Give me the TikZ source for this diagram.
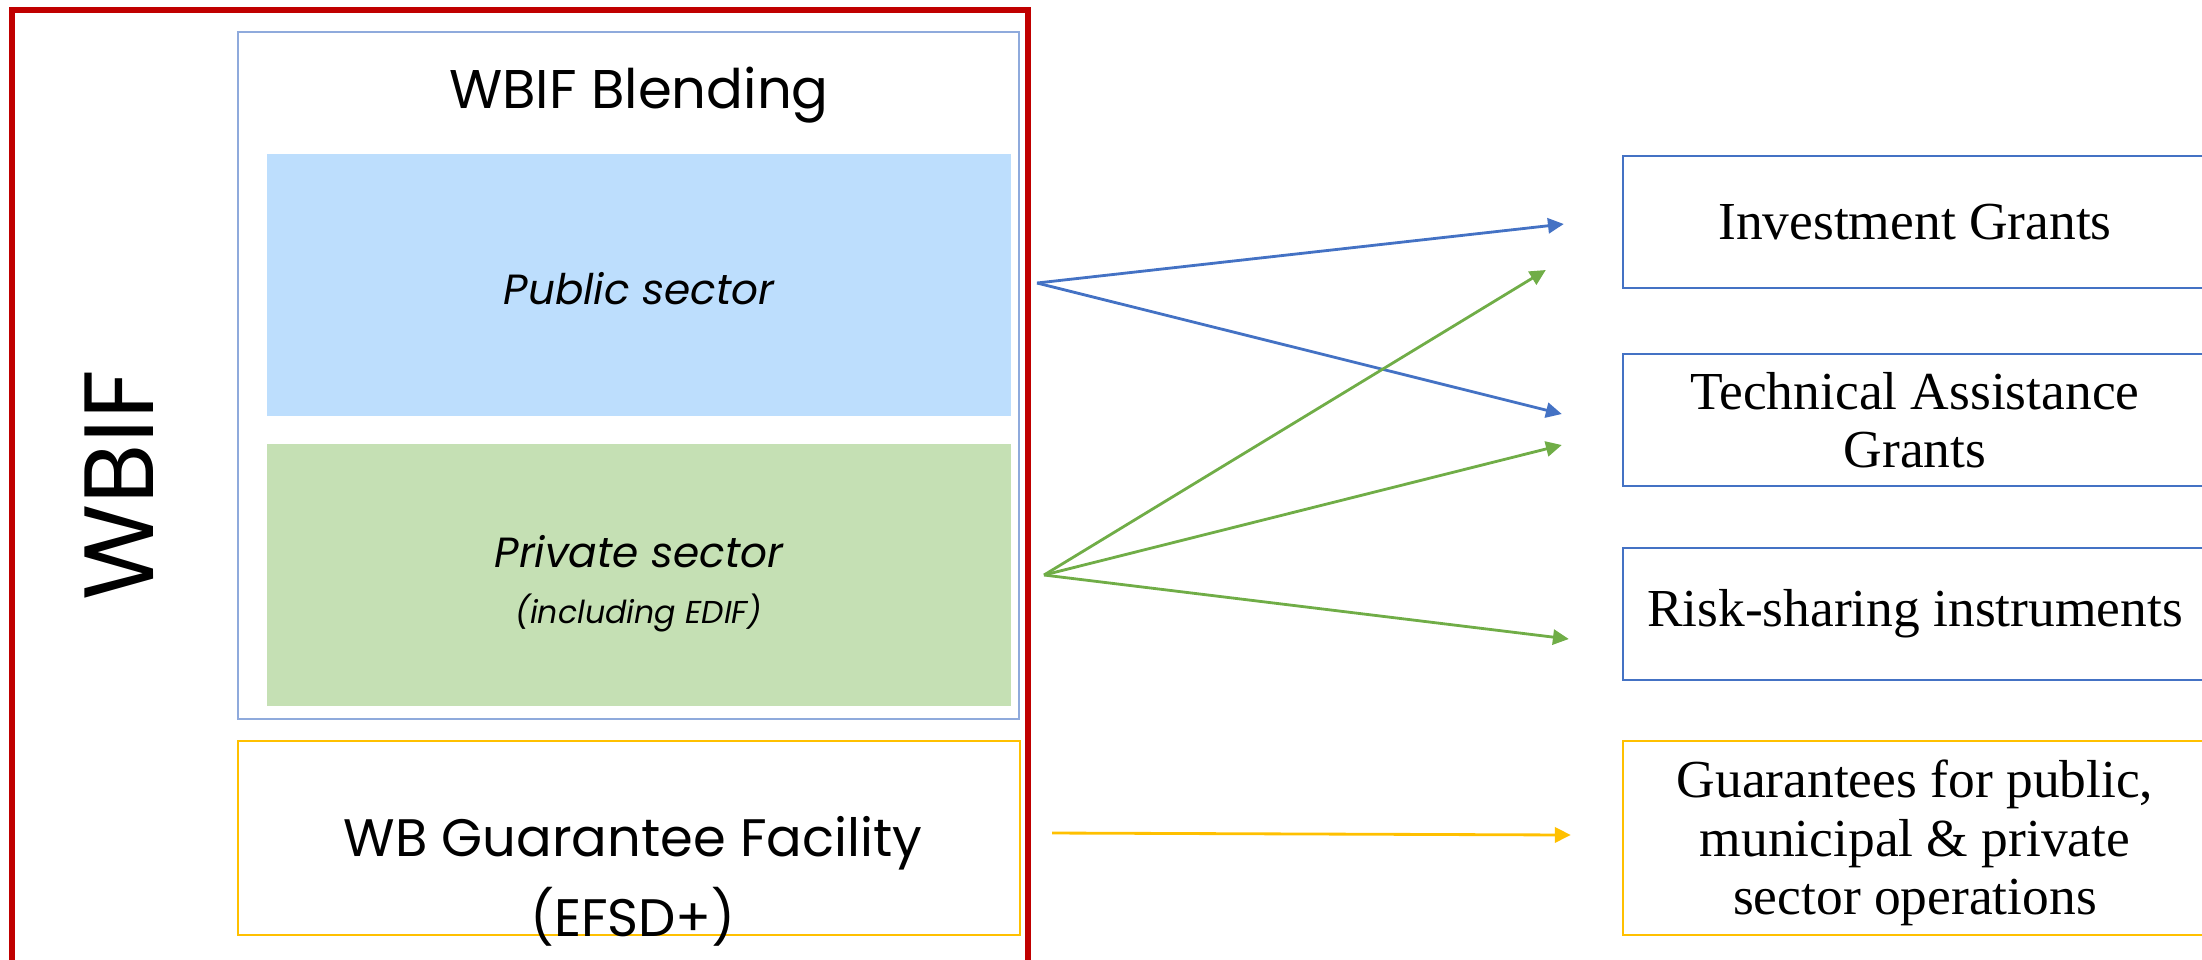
\documentclass[tikz,border=0pt]{standalone}
\usepackage{fontspec}
\setmainfont{Liberation Serif}
\setsansfont{Poppins}
\usepackage{tikz}
\usetikzlibrary{arrows.meta, calc}
\definecolor{wbred}{HTML}{C00000}
\definecolor{outblue}{HTML}{4472C4}
\definecolor{softblue}{HTML}{8FAADC}
\definecolor{pubfill}{HTML}{BDDEFD}
\definecolor{privfill}{HTML}{C5E0B4}
\definecolor{linkgreen}{HTML}{70AD47}
\definecolor{gold}{HTML}{FFC000}

\begin{document}
\begin{tikzpicture}[x=0.01cm, y=-0.01cm,
	secbox/.style={inner sep=0pt, minimum width=7.44cm, minimum height=2.61cm, align=center, font=\sffamily\itshape\fontsize{12}{22}\selectfont},
	outbox/.style={draw=outblue, line width=0.6pt, inner sep=0pt, minimum width=5.84cm, minimum height=1.32cm, align=center, font=\fontsize{15.2}{16.5}\selectfont},
	link/.style={line width=0.8pt, -{Triangle[length=4.5pt, width=4.3pt]}}]
				
				\useasboundingbox (0,0) rectangle (2202,959);
				% WBIF frame, open at the bottom
				\draw[wbred, line width=1.45pt] (12,990) -- (12,10) -- (1028,10) -- (1028,990);
				\node[rotate=90, font=\sffamily\fontsize{28}{30}\selectfont] (wbif) at (119,485) {WBIF};
				
				\node[draw=softblue, line width=0.6pt, inner sep=0pt, minimum width=7.81cm, minimum height=6.87cm] (blend) at (628.5,375.5) {};
				\node[font=\sffamily\fontsize{15.5}{18}\selectfont] (blendlbl) at (639,95) {WBIF Blending};
				\node[secbox, fill=pubfill] (pub) at (639,285) {};
				\node[secbox] (publbl) at (639,289) {Public sector};
				\node[secbox, fill=privfill] (priv) at (639,575) {};
				\node[secbox] (privlbl) at (639,584) {Private sector\\[-6pt]{\fontsize{9}{11}\selectfont (including EDIF)}};
				
				\node[draw=gold, line width=0.6pt, inner sep=0pt, minimum width=7.82cm, minimum height=1.94cm] (guarbox) at (629,838) {};
				\node[align=center, font=\sffamily\fontsize{15}{22.8}\selectfont] (guarlbl) at (633,881) {WB Guarantee Facility\\(EFSD+)};
				
				\node[outbox] (inv) at (1915,222) {Investment Grants};
				\node[outbox] (ta) at (1915,420) {Technical Assistance\\Grants};
				\node[outbox] (risk) at (1915,614) {Risk-sharing instruments};
				\node[outbox, draw=gold, minimum height=1.94cm, font=\fontsize{15.2}{16.7}\selectfont] (guar) at (1915,838) {};
				\node[align=center, font=\fontsize{15.2}{16.7}\selectfont] (guarout) at (1915,843) {Guarantees for public,\\municipal \& private\\sector operations};
				
				\coordinate (pubout) at (1037,283);
				\coordinate (privout) at (1044,575);
				\coordinate (guarsrc) at (1052,833);
				
				\draw[link, outblue] (pubout) -- ($(inv.west)+(-58,2)$);
				\draw[link, outblue] (pubout) -- ($(ta.west)+(-60,-6)$);
				\draw[link, linkgreen] (privout) -- ($(inv.west)+(-76,48)$);
				\draw[link, linkgreen] (privout) -- ($(ta.west)+(-60,25)$);
				\draw[link, linkgreen] (privout) -- ($(risk.west)+(-53,25)$);
				\draw[link, gold] (guarsrc) -- ($(guar.west)+(-51,-3)$);
			\end{tikzpicture}
\end{document}
